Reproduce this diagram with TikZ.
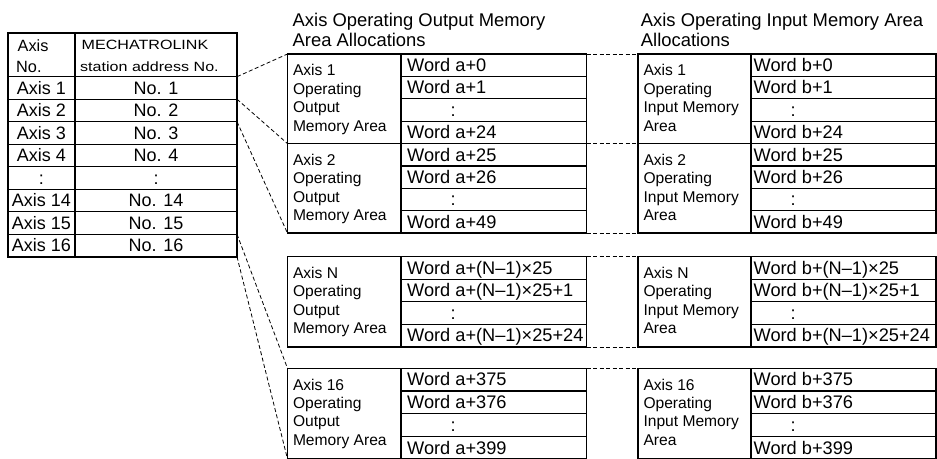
\documentclass[tikz,border=0pt]{standalone}
\usepackage{fontspec}
\setmainfont{Liberation Sans}
\newfontfamily\hdrwide[FakeStretch=1.2]{Liberation Sans}
\newcommand{\rh}{22.4}
\newcommand{\colx}{49.5}
\newcommand{\wx}{6}
% #1 left, #2 top, #3 divider, #4 right, #5 label, #6 first word, #7 second word, #8 last word, #9 name
\newcommand{\memblk}[9]{%
  \coordinate (#9tl) at (#1,#2);
  \coordinate (#9tr) at (#4,#2);
  \coordinate (#9bl) at (#1,{#2+4*\rh});
  \coordinate (#9br) at (#4,{#2+4*\rh});
  \draw[gridline] \foreach \k in {1,2,3} {(#3,{#2+\k*\rh}) -- (#4,{#2+\k*\rh})};
  \draw[frameline] (#9tl) rectangle (#9br);
  \draw[frameline] (#3,#2) -- (#3,{#2+4*\rh});
  \node[lbl] (#9lab) at ({#1+5.3},{#2+10.3}) {#5};
  \node[wrd] (#9wa) at ({#3+\wx},{#2+0.5*\rh+6.3}) {#6};
  \node[wrd] (#9wb) at ({#3+\wx},{#2+1.5*\rh+6.3}) {#7};
  \node[wrd] (#9wc) at ({#3+\colx},{#2+2.5*\rh+6.3}) {:};
  \node[wrd] (#9wd) at ({#3+\wx},{#2+3.5*\rh+6.3}) {#8};
}
\begin{document}
\begin{tikzpicture}[x=1pt,y=-1pt,
  gridline/.style={line width=1.1pt},
  frameline/.style={line width=1.6pt},
  link/.style={line width=0.8pt, dash pattern=on 4pt off 2.5pt},
  ttl/.style={font=\fontsize{18.4}{20}\selectfont, anchor=base west, inner sep=0pt},
  wrd/.style={font=\fontsize{18.2}{20}\selectfont, anchor=base west, inner sep=0pt},
  lbl/.style={font=\fontsize{15.6}{18.4}\selectfont, anchor=north west, inner sep=0pt, align=left},
  cel/.style={font=\fontsize{18}{20}\selectfont, anchor=base, inner sep=0pt},
  hdr/.style={font=\fontsize{16.3}{18}\selectfont, anchor=base west, inner sep=0pt},
  hdrs/.style={font=\hdrwide\fontsize{13.4}{16}\selectfont, anchor=base west, inner sep=0pt},
]
\useasboundingbox (0,0) rectangle (937,458);

% ---------- titles ----------
\node[ttl] (tout1) at (292.5,26.7) {Axis Operating Output Memory};
\node[ttl] (tout2) at (292.5,46.2) {Area Allocations};
\node[ttl] (tin1) at (640.7,26.7) {Axis Operating Input Memory Area};
\node[ttl] (tin2) at (640.7,46.2) {Allocations};

% ---------- left table ----------
\draw[gridline] \foreach \y in {76.7,99.2,121.7,144.2,166.7,189.2,211.7,234.2} {(8,\y) -- (237,\y)};
\draw[frameline] (8,33) rectangle (237,256.7);
\draw[frameline] (75,33) -- (75,256.7);
\node[hdr] (hax) at (17.5,51.7) {Axis};
\node[hdr] (hno) at (16,72.7) {No.};
\node[hdrs] (hml) at (81.5,49.5) {MECHATROLINK};
\node[hdrs] (hst) at (80,71.7) {station address No.};
\foreach \a/\b [count=\i] in {Axis 1/No. 1, Axis 2/No. 2, Axis 3/No. 3, Axis 4/No. 4, :/:, Axis 14/No. 14, Axis 15/No. 15, Axis 16/No. 16}{
  \node[cel] (ta\i) at (41.5,{76.7+22.5*\i-11.25+6.4}) {\a};
  \node[cel] (tb\i) at (156,{76.7+22.5*\i-11.25+6.4}) {\b};
}
\coordinate (tr0) at (237,76.7);
\coordinate (tr1) at (237,99.2);
\coordinate (tr2) at (237,121.7);
\coordinate (tr7) at (237,234.2);
\coordinate (tr8) at (237,256.7);

% ---------- output blocks ----------
\renewcommand{\colx}{49.5}\renewcommand{\wx}{6}
\renewcommand{\rh}{22.4}
\memblk{287.5}{54}{401}{586.5}{Axis 1\\Operating\\Output\\Memory Area}{Word a+0}{Word a+1}{Word a+24}{oa}
\memblk{287.5}{143.6}{401}{586.5}{Axis 2\\Operating\\Output\\Memory Area}{Word a+25}{Word a+26}{Word a+49}{ob}
\renewcommand{\rh}{22.6}
\memblk{287.5}{256.5}{401}{586.5}{Axis N\\Operating\\Output\\Memory Area}{Word a+(N–1)×25}{Word a+(N–1)×25+1}{Word a+(N–1)×25+24}{on}
\renewcommand{\rh}{22.7}
\memblk{287.5}{368.3}{401}{586.5}{Axis 16\\Operating\\Output\\Memory Area}{Word a+375}{Word a+376}{Word a+399}{op}

% ---------- input blocks ----------
\renewcommand{\colx}{39.5}\renewcommand{\wx}{2.5}
\renewcommand{\rh}{22.4}
\memblk{638}{54}{751}{936}{Axis 1\\Operating\\Input Memory\\Area}{Word b+0}{Word b+1}{Word b+24}{ia}
\memblk{638}{143.6}{751}{936}{Axis 2\\Operating\\Input Memory\\Area}{Word b+25}{Word b+26}{Word b+49}{ib}
\renewcommand{\rh}{22.6}
\memblk{638}{256.5}{751}{936}{Axis N\\Operating\\Input Memory\\Area}{Word b+(N–1)×25}{Word b+(N–1)×25+1}{Word b+(N–1)×25+24}{in}
\renewcommand{\rh}{22.7}
\memblk{638}{368.3}{751}{936}{Axis 16\\Operating\\Input Memory\\Area}{Word b+375}{Word b+376}{Word b+399}{ip}

% ---------- dashed connectors ----------
\draw[link] (tr0) -- (oatl);
\draw[link] (tr1) -- (oabl);
\draw[link] (tr2) -- (obbl);
\draw[link] (tr7) -- (optl);
\draw[link] (tr8) -- (opbl);
\draw[link] (oatr) -- (iatl);
\draw[link] (oabr) -- (iabl);
\draw[link] (obbr) -- (ibbl);
\draw[link] (ontr) -- (intl);
\draw[link] (onbr) -- (inbl);
\draw[link] (optr) -- (iptl);
\end{tikzpicture}
\end{document}
